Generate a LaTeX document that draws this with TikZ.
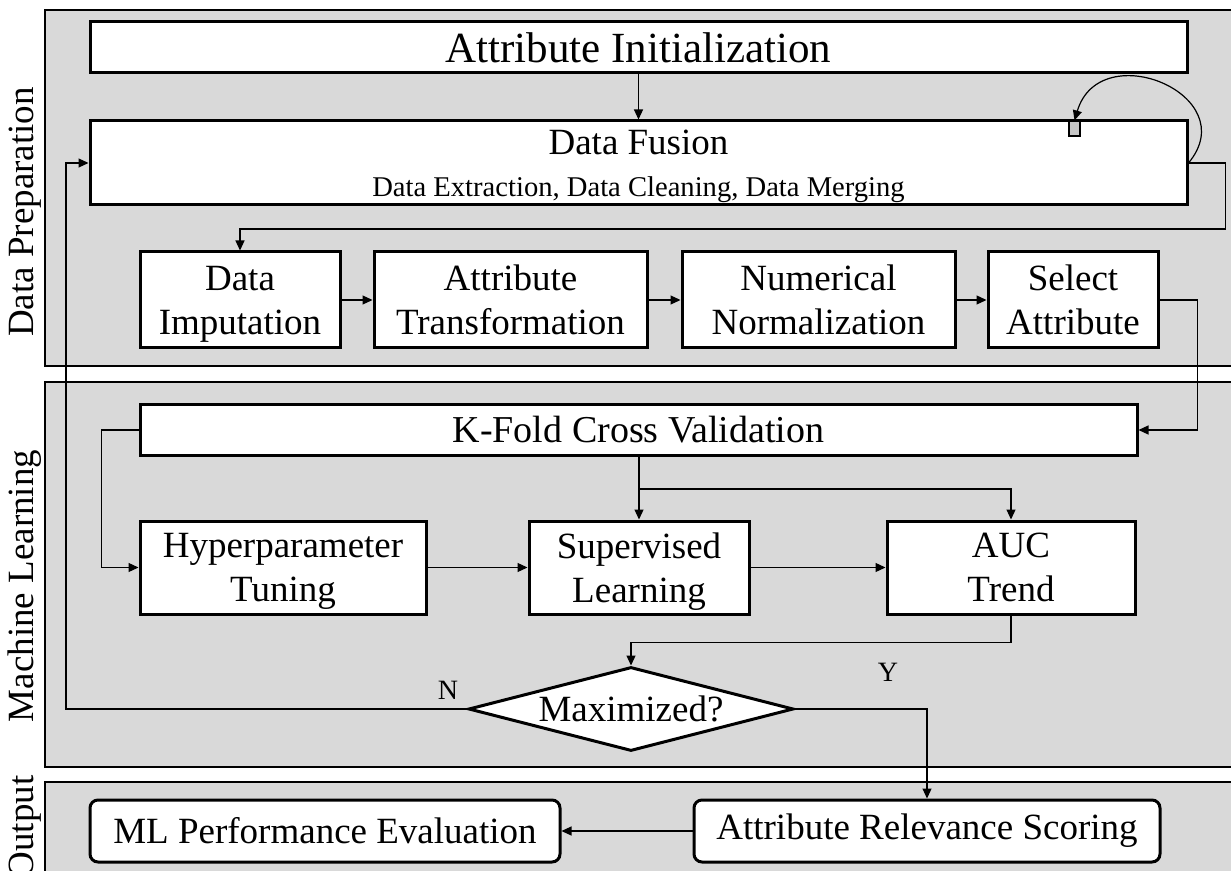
\documentclass[tikz,border=0pt]{standalone}
\usepackage{fontspec}
\setmainfont{Liberation Serif}
\usepackage{tikz}
\usetikzlibrary{shapes.geometric,arrows.meta}

\begin{document}
\begin{tikzpicture}[x=0.5pt,y=-0.5pt,
    font=\fontsize{18.5}{22}\selectfont,
    >={Triangle[length=5pt,width=4.5pt]},
    boxsize/.style 2 args={minimum width=#1*0.5pt,minimum height=#2*0.5pt},
    panel/.style={draw,fill=black!15,line width=0.6pt},
    stage/.style={draw,fill=white,line width=1.5pt,inner sep=0pt,align=center},
    twoline/.style={stage,text depth=0pt},
    result/.style={stage,rounded corners=4pt},
    flow/.style={->,line width=0.6pt},
    side/.style={rotate=90,anchor=base},
    small/.style={font=\fontsize{14}{16}\selectfont}]
    \useasboundingbox (0,0) rectangle (1231,871);
    \clip (0,0) rectangle (1231,871);

    % Panels:
    % The three gray bands run past the right and lower edge of the page
    \draw[panel] (45,10) rectangle (1250,366);
    \draw[panel] (45,382) rectangle (1250,767);
    \draw[panel] (45,782) rectangle (1250,890);
    \node[side] (prepl) at (33,212) {Data Preparation};
    \node[side] (mll) at (33,586) {Machine Learning};
    \node[side] (outl) at (33,827) {Output};

    % Data preparation:
    \node[stage,boxsize={1097}{51},font=\fontsize{21.5}{24}\selectfont] (init) at (638.5,47.5) {Attribute Initialization};
    \node[twoline,boxsize={1097}{84}] (fusion) at (638.5,163)
        {Data Fusion\\[-1pt]{\fontsize{14.3}{17}\selectfont Data Extraction, Data Cleaning, Data Merging}};
    \node[draw,fill=black!22,line width=0.6pt,inner sep=0pt,boxsize={11}{15}] (tag) at (1074.5,128.5) {};
    \node[twoline,boxsize={200}{96}] (imput) at (240,300) {Data\\Imputation};
    \node[twoline,boxsize={273}{96}] (trans) at (510.5,300) {Attribute\\Transformation};
    \node[twoline,boxsize={273}{96}] (norm) at (818.5,300) {Numerical\\Normalization};
    \node[twoline,boxsize={170}{96}] (select) at (1073,300) {Select\\Attribute};

    % Machine learning:
    \node[stage,boxsize={997}{50},font=\fontsize{19}{22}\selectfont] (kfold) at (638.5,430) {K-Fold Cross Validation};
    \node[twoline,boxsize={286}{93}] (hyper) at (283,567.5) {Hyperparameter\\Tuning};
    \node[twoline,boxsize={220}{93}] (super) at (639,567.5) {Supervised\\Learning};
    \node[twoline,boxsize={248}{93}] (auc) at (1011,567.5) {AUC\\Trend};
    \node[diamond,draw,fill=white,line width=1.5pt,inner sep=0pt,aspect=3.87,boxsize={325}{84}]
        (maxd) at (631,709) {\makebox[0pt]{Maximized?}};

    % Output:
    \node[result,boxsize={470}{62}] (perf) at (325,831) {ML Performance Evaluation};
    \node[result,boxsize={466}{62}] (score) at (927,831) {Attribute Relevance Scoring};

    % Connectors:
    \draw[flow] (init) -- (fusion);
    \draw[flow] (fusion.east) .. controls (1245,95) and (1100,35) .. (tag.north);
    \draw[flow] (fusion.east) -- ++(37,0) -- ++(0,66) -| (imput.north);
    \draw[flow] (imput) -- (trans);
    \draw[flow] (trans) -- (norm);
    \draw[flow] (norm) -- (select);
    \draw[flow] (select.east) -- ++(38,0) |- (kfold.east);
    \draw[flow] (kfold.west) -- ++(-37,0) |- (hyper.west);
    \draw[flow] (kfold.south -| super.north) -- (super.north);
    \coordinate (split) at (639,489);
    \draw[flow] (split) -| (auc.north);
    \draw[flow] (hyper) -- (super);
    \draw[flow] (super) -- (auc);
    \draw[flow] (auc.south) -- ++(0,27) -| (maxd.north);
    % Loop back when the score is not yet maximal
    \draw[flow] (maxd.west) -- ++(-401,0) |- (fusion.west);
    \draw[flow] (maxd.east) -| (score.north);
    \draw[flow] (score) -- (perf);
    \node[small] (nlab) at (448,690) {N};
    \node[small] (ylab) at (888,672) {Y};
\end{tikzpicture}
\end{document}
